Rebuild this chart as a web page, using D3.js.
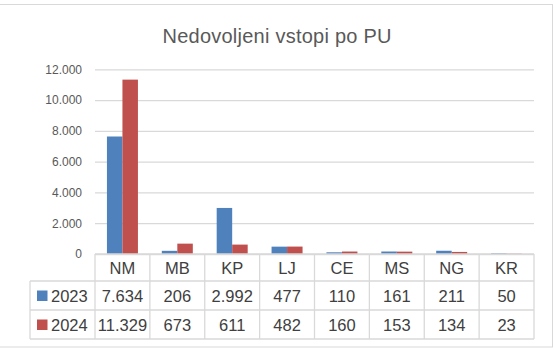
<!DOCTYPE html>
<html>
<head>
<meta charset="utf-8">
<script src="https://cdn.jsdelivr.net/npm/d3@7"></script>
<style>
  html, body { margin: 0; padding: 0; background: #fff; }
  svg { display: block; font-family: "Liberation Sans", Arial, sans-serif; }
</style>
</head>
<body>
<svg id="chart" width="554" height="350"></svg>
<script>
// Police units and yearly counts of unauthorised entries
const categories = ["NM", "MB", "KP", "LJ", "CE", "MS", "NG", "KR"];
const seriesNames = ["2023", "2024"];
const values2023 = [7634, 206, 2992, 477, 110, 161, 211, 50];
const values2024 = [11329, 673, 611, 482, 160, 153, 134, 23];
const yTicks = [0, 2000, 4000, 6000, 8000, 10000, 12000];
const titleText = "Nedovoljeni vstopi po PU";

const seriesValues = [values2023, values2024];
const colors = ["#4f81bd", "#c0504d"];

const locale = d3.formatLocale({ decimal: ",", thousands: ".", grouping: [3], currency: ["", " €"] });
const fmt = locale.format(",d");

const svg = d3.select("#chart");

// Outer chart frame
svg.append("rect")
  .attr("x", -1).attr("y", 4.5).attr("width", 553.5).attr("height", 342.5)
  .attr("fill", "#fff").attr("stroke", "#d9d9d9").attr("stroke-width", 1);

// Title
svg.append("text")
  .attr("x", 277).attr("y", 43)
  .attr("text-anchor", "middle")
  .attr("font-size", 20)
  .attr("fill", "#595959")
  .attr("textLength", 229)
  .attr("lengthAdjust", "spacing")
  .text(titleText);

// Plot area
const plot = { left: 95, right: 534, top: 69.3, bottom: 254 };

const x = d3.scaleBand()
  .domain(categories)
  .range([plot.left, plot.right])
  .padding(0);

const xs = d3.scaleBand()
  .domain(seriesNames)
  .range([0, x.bandwidth()])
  .paddingInner(0)
  .paddingOuter(0.77);

const y = d3.scaleLinear()
  .domain([0, 12000])
  .range([plot.bottom, plot.top]);

// Horizontal gridlines and value axis labels
const yAxis = d3.axisLeft(y)
  .tickValues(yTicks)
  .tickSize(-(plot.right - plot.left))
  .tickPadding(13)
  .tickFormat(d => fmt(d));

const gy = svg.append("g")
  .attr("transform", `translate(${plot.left},0)`)
  .call(yAxis);
gy.select(".domain").remove();
gy.selectAll(".tick line")
  .attr("stroke", "#d9d9d9")
  .attr("stroke-width", 1.3);
gy.selectAll(".tick text")
  .attr("fill", "#595959")
  .attr("font-size", 12)
  .attr("font-family", "\"Liberation Sans\", Arial, sans-serif");

// Bars
const groups = svg.append("g").selectAll("g")
  .data(categories)
  .join("g")
  .attr("transform", d => `translate(${x(d)},0)`);

groups.selectAll("rect")
  .data((d, i) => seriesNames.map((s, k) => ({ s, k, v: seriesValues[k][i] })))
  .join("rect")
  .attr("x", d => xs(d.s))
  .attr("width", xs.bandwidth())
  .attr("y", d => y(d.v))
  .attr("height", d => plot.bottom - y(d.v))
  .attr("fill", d => colors[d.k]);

// Data table below the plot
const table = svg.append("g");
const rowTop = [plot.bottom, 281, 310, 339];
const legendLeft = 30;
const lineColor = "#d9d9d9";

function hline(x1, x2, yy) {
  table.append("line")
    .attr("x1", x1).attr("x2", x2).attr("y1", yy).attr("y2", yy)
    .attr("stroke", lineColor).attr("stroke-width", 1.3);
}
function vline(xx, y1, y2) {
  table.append("line")
    .attr("x1", xx).attr("x2", xx).attr("y1", y1).attr("y2", y2)
    .attr("stroke", lineColor).attr("stroke-width", 1.3);
}

hline(plot.left, plot.right, rowTop[0]);
hline(legendLeft, plot.right, rowTop[1]);
hline(legendLeft, plot.right, rowTop[2]);
hline(legendLeft, plot.right, rowTop[3]);
vline(legendLeft, rowTop[1], rowTop[3]);
categories.forEach(c => vline(x(c), rowTop[0], rowTop[3]));
vline(plot.right, rowTop[0], rowTop[3]);

// Category header row
table.selectAll(".cat")
  .data(categories)
  .join("text")
  .attr("class", "cat")
  .attr("x", d => x(d) + x.bandwidth() / 2)
  .attr("y", (rowTop[0] + rowTop[1]) / 2 + 6)
  .attr("text-anchor", "middle")
  .attr("font-size", 16.5)
  .attr("fill", "#404040")
  .text(d => d);

// Series rows: legend key plus values
seriesNames.forEach((s, k) => {
  const top = rowTop[k + 1], bot = rowTop[k + 2];
  const mid = (top + bot) / 2;
  table.append("rect")
    .attr("x", 37).attr("y", mid - 5)
    .attr("width", 10.5).attr("height", 10.5)
    .attr("fill", colors[k]);
  table.append("text")
    .attr("x", 51).attr("y", mid + 6)
    .attr("font-size", 16.5)
    .attr("fill", "#404040")
    .text(s);
  table.selectAll(".v" + k)
    .data(seriesValues[k])
    .join("text")
    .attr("class", "v" + k)
    .attr("x", (d, i) => x(categories[i]) + x.bandwidth() / 2)
    .attr("y", mid + 6)
    .attr("text-anchor", "middle")
    .attr("font-size", 16.5)
    .attr("fill", "#404040")
    .text(d => fmt(d));
});
</script>
</body>
</html>
